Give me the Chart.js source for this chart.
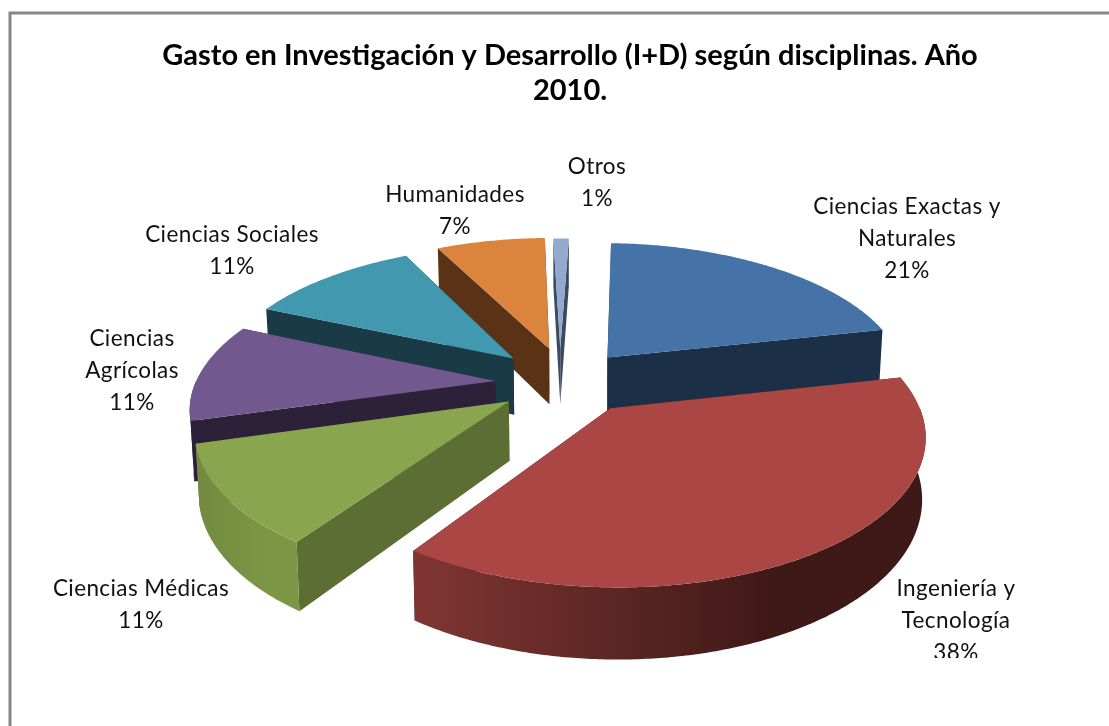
<!DOCTYPE html>
<html lang="es">
<head>
<meta charset="utf-8">
<title>Gasto en I+D según disciplinas</title>
<script src="https://cdn.jsdelivr.net/npm/chart.js@4"></script>
<style>
  html, body { margin: 0; background: #fff; }
  canvas { display: block; }
</style>
</head>
<body>
<canvas id="gastoChart" width="1109" height="726"></canvas>
<script>
const chartTitle = ["Gasto en Investigación y Desarrollo (I+D) según disciplinas. Año", "2010."];
const categories = [
  ["Ciencias Exactas y", "Naturales"],
  ["Ingeniería y", "Tecnología"],
  ["Ciencias Médicas"],
  ["Ciencias", "Agrícolas"],
  ["Ciencias Sociales"],
  ["Humanidades"],
  ["Otros"],
];
const shares = [21, 38, 11, 11, 11, 7, 1];

// slice colours: top face, straight sides, curved rim (left to right)
const topColors = ["#4572A7", "#AA4643", "#89A54E", "#71588F", "#4198AF", "#DB843D", "#93A9CF"];
const sideColors = ["#1B2F47", "#4A1D1B", "#5C6E33", "#2C2139", "#1A3A47", "#5A3216", "#3C4A60"];
const rimLeft = ["#1B2F47", "#803633", "#728A40", "#2C2139", "#1A3A47", "#5A3216", "#3C4A60"];
const rimRight = ["#1B2F47", "#3F1917", "#7C9645", "#2C2139", "#1A3A47", "#5A3216", "#3C4A60"];

const sliceOffset = [60, 68, 76, 76, 80, 80, 85];
// small screen shift per slice, in px
const sliceShift = [[0, -5], [1, -2], [2, -3], [1, 0], [0, 0], [-2, 0], [-10, 3]];
const pieRadius = 300;
const pieRotation = 2;

// fake 3D settings
const tilt = 0.465;
const perspective = 0.00055;
const pieDepth = 58;
const baseShrink = 0.99;

// label anchors: center x, y of the first line
const labelAnchors = [
  [907, 207], [956, 589], [141, 589], [132, 339], [232, 235], [455, 195], [597, 167],
];
const labelLineGap = 32;
const labelClipBottom = 658;

function project(cx, cy, x, y, depth) {
  const w = 1 / (1 + perspective * y);
  const shrink = depth ? baseShrink : 1;
  return {
    x: cx + x * w * shrink,
    y: cy - tilt * y * w + depth * w,
  };
}

function drawSlice(ctx, arc, i) {
  const { startAngle, endAngle, outerRadius: r } = arc;
  const cx = arc.x + sliceShift[i][0];
  const cy = arc.y + sliceShift[i][1];
  const mid = (startAngle + endAngle) / 2;
  const off = arc.options.offset;
  const apexX = off * Math.cos(mid);
  const apexY = -off * Math.sin(mid);
  const at = (a, depth) =>
    project(cx, cy, apexX + r * Math.cos(a), apexY - r * Math.sin(a), depth);
  const apex = (depth) => project(cx, cy, apexX, apexY, depth);
  const poly = (points, fill) => {
    ctx.beginPath();
    points.forEach((p, k) => (k ? ctx.lineTo(p.x, p.y) : ctx.moveTo(p.x, p.y)));
    ctx.closePath();
    ctx.fillStyle = fill;
    ctx.fill();
  };
  const steps = (a0, a1) => {
    const n = Math.max(2, Math.ceil(Math.abs(a1 - a0) / 0.01));
    return Array.from({ length: n + 1 }, (_, k) => a0 + ((a1 - a0) * k) / n);
  };

  // straight sides
  [startAngle, endAngle].forEach((a) => {
    poly([apex(0), at(a, 0), at(a, pieDepth), apex(pieDepth)], sideColors[i]);
  });

  // curved rim, only the stretch that faces the viewer
  const norm = (a) => ((a % (2 * Math.PI)) + 2 * Math.PI) % (2 * Math.PI);
  const s = norm(startAngle);
  const e = s + (endAngle - startAngle);
  const ranges = [[Math.max(s, 0), Math.min(e, Math.PI)], [Math.max(s, 2 * Math.PI), Math.min(e, 3 * Math.PI)]];
  ranges.forEach(([a0, a1]) => {
    if (a1 <= a0) return;
    const angles = steps(a0, a1);
    const upper = angles.map((a) => at(a, 0));
    const lower = angles.map((a) => at(a, pieDepth)).reverse();
    const xs = upper.map((p) => p.x);
    const left = Math.min(...xs);
    const right = Math.max(...xs);
    const grad = ctx.createLinearGradient(left, 0, right, 0);
    grad.addColorStop(0, rimLeft[i]);
    grad.addColorStop(0.7, rimRight[i]);
    grad.addColorStop(1, rimRight[i]);
    poly(upper.concat(lower), grad);
  });

  // top face
  poly([apex(0)].concat(steps(startAngle, endAngle).map((a) => at(a, 0))), topColors[i]);
}

const pie3d = {
  id: "pie3d",
  beforeDraw(chart) {
    // chart frame, only top and left are in view
    const ctx = chart.ctx;
    ctx.save();
    ctx.strokeStyle = "#868686";
    ctx.lineWidth = 3;
    ctx.beginPath();
    ctx.moveTo(10, chart.height);
    ctx.lineTo(10, 13);
    ctx.lineTo(chart.width, 13);
    ctx.stroke();
    ctx.restore();
  },
  beforeDatasetsDraw(chart) {
    const ctx = chart.ctx;
    const arcs = chart.getDatasetMeta(0).data;
    // back slices first
    const order = arcs
      .map((arc, i) => ({ arc, i, depth: Math.sin((arc.startAngle + arc.endAngle) / 2) }))
      .sort((a, b) => a.depth - b.depth);
    ctx.save();
    order.forEach(({ arc, i }) => drawSlice(ctx, arc, i));
    ctx.restore();
    return false;
  },
  afterDraw(chart) {
    const ctx = chart.ctx;
    ctx.save();
    ctx.beginPath();
    ctx.rect(0, 0, chart.width, labelClipBottom);
    ctx.clip();
    ctx.fillStyle = "#111";
    ctx.font = "22.5px Lato";
    ctx.letterSpacing = "0.4px";
    ctx.textAlign = "center";
    ctx.textBaseline = "middle";
    categories.forEach((lines, i) => {
      const [x, y] = labelAnchors[i];
      lines.concat(shares[i] + "%").forEach((line, k) => {
        ctx.fillText(line, x, y + k * labelLineGap);
      });
    });
    ctx.restore();
  },
};

new Chart(document.getElementById("gastoChart"), {
  type: "pie",
  data: {
    labels: categories,
    datasets: [
      {
        data: shares,
        backgroundColor: topColors,
        offset: sliceOffset,
        radius: pieRadius,
        rotation: pieRotation,
        borderWidth: 0,
      },
    ],
  },
  options: {
    responsive: false,
    animation: false,
    layout: { padding: { left: 31, bottom: 77 } },
    plugins: {
      legend: { display: false },
      tooltip: { enabled: false },
      title: {
        display: true,
        text: chartTitle,
        color: "#000",
        font: { family: "Lato", size: 29, weight: "bold", lineHeight: 1.2 },
        padding: { top: 38, bottom: 10 },
      },
    },
  },
  plugins: [pie3d],
});
</script>
</body>
</html>
